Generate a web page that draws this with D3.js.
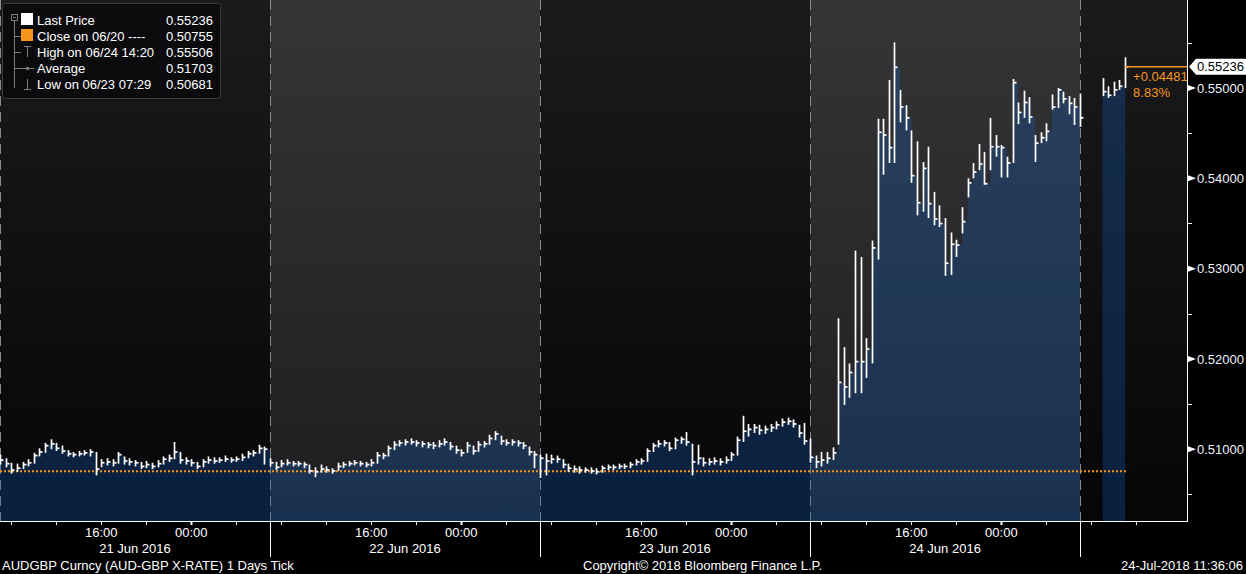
<!DOCTYPE html>
<html><head><meta charset="utf-8">
<script src="https://cdn.jsdelivr.net/npm/d3@7"></script>
<style>
body{margin:0;background:#000;overflow:hidden}
text{font-family:"Liberation Sans",Arial,sans-serif;font-size:13px}
</style>
</head><body><svg id="c" width="1246" height="574"></svg>
<script>
// ---------- data ----------
const seriesStart = "2016-06-21T07:00:00Z";
const barMinutes = 30;
const axisEnd = "2016-06-25T16:30:00Z";
const sessionStarts = ["2016-06-21T07:00:00Z","2016-06-22T07:00:00Z","2016-06-23T07:00:00Z","2016-06-24T07:00:00Z","2016-06-25T07:00:00Z"];
const dayLabels = ["21 Jun 2016","22 Jun 2016","23 Jun 2016","24 Jun 2016"];
const priceTicks = [0.51,0.52,0.53,0.54,0.55];
const minorPriceTicks = [0.505,0.515,0.525,0.535,0.545,0.555];

const closes = [
 .5088,.5084,.5077,.5079,.5083,.5085,.5093,.5097,.5104,.5106,
 .5101,.5098,.5095,.5094,.5095,.5096,.5097,.5078,.5085,.5086,
 .5085,.5094,.5087,.5086,.5085,.5081,.5083,.5081,.5084,.5089,
 .5090,.5097,.5088,.5087,.5085,.5081,.5086,.5088,.5087,.5088,
 .5089,.5088,.5089,.5091,.5095,.5096,.5101,.5100,
 .5085,.5080,.5084,.5085,.5084,.5084,.5083,.5076,.5075,.5078,
 .5077,.5076,.5081,.5083,.5084,.5085,.5084,.5083,.5085,.5093,
 .5093,.5101,.5105,.5107,.5108,.5108,.5107,.5106,.5105,.5104,
 .5106,.5108,.5103,.5099,.5096,.5104,.5098,.5105,.5106,.5112,
 .5117,.5109,.5107,.5108,.5107,.5104,.5097,.5094,
 .5090,.5087,.5089,.5089,.5083,.5079,.5078,.5077,.5077,.5076,
 .5075,.5079,.5080,.5080,.5081,.5081,.5083,.5086,.5087,.5098,
 .5104,.5106,.5107,.5101,.5110,.5111,.5108,.5086,.5090,.5085,
 .5086,.5087,.5086,.5088,.5094,.5110,.5120,.5122,.5124,.5121,
 .5122,.5124,.5127,.5130,.5131,.5128,.5118,.5109,
 .5091,.5086,.5088,.5090,.5096,.5174,.5169,.5185,.5197,.5197,
 .5211,.5323,.5451,.5448,.5434,.5523,.5479,.5467,.5403,.5373,
 .5411,.5372,.5355,.5350,.5306,.5327,.5326,.5352,.5395,.5407,
 .5416,.5394,.5435,.5435,.5434,.5417,.5506,.5473,.5484,.5468,
 .5439,.5445,.5452,.5479,.5498,.5488,.5483,.5479,.5467,
 null,null,null,
 .5496,.5492,.5498,.5502,.55236
];
const highs = [
 .5094,.5090,.5085,.5084,.5086,.5089,.5096,.5101,.5107,.5111,
 .5107,.5104,.5099,.5097,.5098,.5099,.5100,.5097,.5089,.5090,
 .5089,.5097,.5092,.5090,.5088,.5086,.5087,.5085,.5088,.5092,
 .5094,.5108,.5097,.5091,.5089,.5086,.5089,.5092,.5091,.5091,
 .5093,.5091,.5092,.5095,.5098,.5099,.5105,.5103,
 .5090,.5086,.5088,.5089,.5087,.5087,.5086,.5083,.5080,.5083,
 .5081,.5079,.5085,.5086,.5087,.5088,.5087,.5086,.5089,.5097,
 .5096,.5104,.5109,.5110,.5111,.5112,.5110,.5109,.5108,.5108,
 .5110,.5112,.5108,.5104,.5100,.5108,.5104,.5109,.5109,.5116,
 .5120,.5115,.5111,.5111,.5110,.5108,.5103,.5098,
 .5094,.5095,.5094,.5093,.5089,.5084,.5082,.5081,.5080,.5080,
 .5079,.5082,.5083,.5083,.5084,.5084,.5086,.5089,.5090,.5101,
 .5107,.5110,.5110,.5108,.5113,.5114,.5119,.5106,.5105,.5091,
 .5090,.5091,.5090,.5092,.5097,.5114,.5137,.5128,.5128,.5127,
 .5126,.5128,.5131,.5134,.5135,.5133,.5127,.5129,
 .5112,.5093,.5097,.5097,.5102,.5245,.5213,.5195,.5320,.5313,
 .5223,.5331,.5466,.5466,.5509,.55506,.5498,.5481,.5453,.5441,
 .5418,.5435,.5385,.5370,.5356,.5340,.5332,.5368,.5400,.5417,
 .5438,.5429,.5467,.5448,.5437,.5424,.5510,.5484,.5497,.5490,
 .5448,.5451,.5461,.5493,.5500,.5496,.5491,.5489,.5494,
 null,null,null,
 .5511,.5502,.5507,.5509,.5534
];
const lows = [
 .5083,.5080,.5073,.5075,.5078,.5081,.5084,.5092,.5096,.5100,
 .5098,.5095,.5092,.5091,.5092,.5093,.5092,.5071,.5080,.5082,
 .5081,.5084,.5083,.5082,.5081,.5078,.5079,.5078,.5080,.5083,
 .5086,.5089,.5084,.5083,.5081,.5078,.5080,.5084,.5084,.5085,
 .5086,.5085,.5086,.5087,.5090,.5092,.5095,.5083,
 .5081,.5077,.5080,.5082,.5081,.5081,.5079,.5073,.5069,.5074,
 .5074,.5073,.5076,.5079,.5081,.5082,.5081,.5080,.5081,.5084,
 .5089,.5092,.5099,.5103,.5104,.5105,.5103,.5102,.5101,.5100,
 .5102,.5104,.5099,.5095,.5092,.5096,.5094,.5097,.5102,.5105,
 .5110,.5105,.5104,.5104,.5103,.5100,.5093,.5079,
 .50681,.5071,.5084,.5085,.5079,.5075,.5074,.5073,.5074,.5073,
 .5072,.5074,.5077,.5077,.5078,.5078,.5079,.5082,.5083,.5086,
 .5097,.5102,.5103,.5098,.5100,.5106,.5104,.5071,.5083,.5081,
 .5082,.5083,.5082,.5084,.5087,.5093,.5108,.5114,.5118,.5116,
 .5117,.5119,.5122,.5125,.5127,.5124,.5113,.5105,
 .5085,.5079,.5081,.5084,.5088,.5105,.5149,.5157,.5162,.5162,
 .5179,.5195,.5310,.5404,.5417,.5417,.5462,.5453,.5395,.5359,
 .5363,.5356,.5348,.5346,.5292,.5293,.5313,.5339,.5379,.5400,
 .5409,.5393,.5409,.5424,.5401,.5401,.5417,.5460,.5467,.5461,
 .5418,.5439,.5441,.5476,.5478,.5483,.5471,.5459,.5457,
 null,null,null,
 .5491,.5489,.5491,.5498,.5500
];
const lastPrice = 0.55236;
const prevClose = 0.50755;
const legendRows = [
  {label:"Last Price", value:"0.55236"},
  {label:"Close on 06/20 ----", value:"0.50755"},
  {label:"High on 06/24 14:20", value:"0.55506"},
  {label:"Average", value:"0.51703"},
  {label:"Low on 06/23 07:29", value:"0.50681"}
];
const changeText = "+0.04481";
const changePctText = "8.83%";
const footerLeft = "AUDGBP Curncy (AUD-GBP X-RATE) 1 Days  Tick";
const footerMid = "Copyright\u00A9 2018 Bloomberg Finance L.P.";
const footerRight = "24-Jul-2018 11:36:06";

// ---------- layout ----------
const W = 1246, H = 574;
const plotR = 1187, plotB = 521;
const ORANGE = "#f7941d";
const svg = d3.select("#c");
svg.append("rect").attr("width",W).attr("height",H).attr("fill","#000");

const t0 = new Date(seriesStart);
const x = d3.scaleUtc().domain([t0, new Date(axisEnd)]).range([0, plotR]);
const y = d3.scaleLinear().domain([0.50205, 0.55975]).range([plotB, 0]);

const bars = closes.map((c,i)=>({t:new Date(+t0 + i*barMinutes*60000), c, h:highs[i], l:lows[i]}));
const valid = bars.filter(d=>d.c!=null);
const lastBar = valid[valid.length-1];

// gradients
const defs = svg.append("defs");
function grad(id, top, bot){
  const g = defs.append("linearGradient").attr("id",id).attr("x1",0).attr("y1",0).attr("x2",0).attr("y2",1);
  g.append("stop").attr("offset","0%").attr("stop-color",top);
  g.append("stop").attr("offset","100%").attr("stop-color",bot);
}
grad("gDark","#1b1b1e","#060608");
grad("gLight","#353537","#1e1e21");

const bands = sessionStarts.map((s,i)=>({s:new Date(s), e:new Date(sessionStarts[i+1]||axisEnd), i}));
svg.append("g").selectAll("rect").data(bands).join("rect")
  .attr("x",d=>x(d.s)).attr("y",0)
  .attr("width",d=>x(d.e)-x(d.s)).attr("height",plotB)
  .attr("fill",d=>d.i%2? "url(#gLight)":"url(#gDark)");

// dashed session separators
svg.append("g").selectAll("line").data(bands).join("line")
  .attr("x1",d=>Math.round(x(d.s))+0.5).attr("x2",d=>Math.round(x(d.s))+0.5)
  .attr("y1",0).attr("y2",plotB)
  .attr("stroke","#8a8a8a").attr("stroke-width",1).attr("stroke-dasharray","10,6");

// area
const area = d3.area().defined(d=>d.c!=null)
  .x(d=>x(d.t)).y0(plotB).y1(d=>y(d.c)).curve(d3.curveStepAfter);
svg.append("path").datum(bars).attr("d",area).attr("fill","rgb(15,95,190)").attr("fill-opacity",0.3);

// previous close dotted
svg.append("line").attr("x1",x(t0)).attr("x2",x(lastBar.t)+3)
  .attr("y1",y(prevClose)).attr("y2",y(prevClose))
  .attr("stroke",ORANGE).attr("stroke-width",2).attr("stroke-dasharray","2,2");

// hi-lo bars
const gb = svg.append("g").attr("stroke","#fff").attr("stroke-width",1.7);
gb.selectAll("line.hl").data(valid).join("line").attr("class","hl")
  .attr("x1",d=>Math.round(x(d.t))+0.5).attr("x2",d=>Math.round(x(d.t))+0.5)
  .attr("y1",d=>y(d.h)).attr("y2",d=>y(d.l));
gb.selectAll("line.cl").data(valid).join("line").attr("class","cl")
  .attr("x1",d=>Math.round(x(d.t))+0.5).attr("x2",d=>Math.round(x(d.t))+3.5)
  .attr("y1",d=>y(d.c)).attr("y2",d=>y(d.c));

// last price line + change
const yl = y(lastPrice);
svg.append("line").attr("x1",x(lastBar.t)).attr("x2",plotR).attr("y1",yl).attr("y2",yl)
  .attr("stroke",ORANGE).attr("stroke-width",1.5);
svg.append("text").attr("x",x(lastBar.t)+8).attr("y",yl+14).attr("fill",ORANGE).text(changeText);
svg.append("text").attr("x",x(lastBar.t)+8).attr("y",yl+30).attr("fill",ORANGE).text(changePctText);

// right axis
svg.append("line").attr("x1",plotR+0.5).attr("x2",plotR+0.5).attr("y1",0).attr("y2",plotB)
  .attr("stroke","#fff").attr("stroke-width",1);
const ga = svg.append("g");
ga.selectAll("path.maj").data(priceTicks).join("path").attr("class","maj")
  .attr("d",v=>`M${plotR+1},${y(v)-3}L${plotR+9},${y(v)}L${plotR+1},${y(v)+3}Z`).attr("fill","#fff");
ga.selectAll("line.min").data(minorPriceTicks).join("line").attr("class","min")
  .attr("x1",plotR+1).attr("x2",plotR+5).attr("y1",v=>Math.round(y(v))+0.5).attr("y2",v=>Math.round(y(v))+0.5)
  .attr("stroke","#fff");
ga.selectAll("text").data(priceTicks).join("text")
  .attr("x",plotR+10).attr("y",v=>y(v)).attr("dy","0.36em").attr("fill","#eef3fa")
  .text(v=>d3.format(".5f")(v));
// last price tag
svg.append("path").attr("d",`M${plotR+2},${yl}L${plotR+9},${yl-8}L${W},${yl-8}L${W},${yl+8}L${plotR+9},${yl+8}Z`).attr("fill","#fff");
svg.append("text").attr("x",plotR+10).attr("y",yl).attr("dy","0.36em").attr("fill","#000").text(d3.format(".5f")(lastPrice));

// bottom axis
svg.append("line").attr("x1",0).attr("x2",plotR+1).attr("y1",plotB+0.5).attr("y2",plotB+0.5).attr("stroke","#fff");
const tickEnd = new Date(+lastBar.t + 60*60000);
const hourTicks = x.ticks(d3.utcHour.every(4)).filter(t=>t<=tickEnd);
const gx = svg.append("g");
gx.selectAll("line").data(hourTicks).join("line")
  .attr("x1",d=>Math.round(x(d))+0.5).attr("x2",d=>Math.round(x(d))+0.5)
  .attr("y1",plotB).attr("y2",plotB+4).attr("stroke","#fff").attr("stroke-width",d=>d.getUTCHours()===0?2:1);
gx.selectAll("text").data(hourTicks.filter(d=>d.getUTCHours()===16||d.getUTCHours()===0)).join("text")
  .attr("x",d=>x(d)).attr("y",plotB+16).attr("text-anchor","middle").attr("fill","#fff")
  .text(d3.utcFormat("%H:%M"));
svg.append("g").selectAll("line").data(bands.slice(1)).join("line")
  .attr("x1",d=>Math.round(x(d.s))+0.5).attr("x2",d=>Math.round(x(d.s))+0.5)
  .attr("y1",plotB).attr("y2",plotB+36).attr("stroke","#fff");
svg.append("g").selectAll("text").data(dayLabels).join("text")
  .attr("x",(d,i)=>x(new Date(+bands[i].s + 12*3600000))).attr("y",plotB+32)
  .attr("text-anchor","middle").attr("fill","#fff").text(d=>d);

// footer
svg.append("text").attr("x",2).attr("y",570).attr("fill","#fff").text(footerLeft);
svg.append("text").attr("x",583).attr("y",570).attr("fill","#fff").text(footerMid);
svg.append("text").attr("x",1243).attr("y",570).attr("text-anchor","end").attr("fill","#fff").text(footerRight);

// legend
const lg = svg.append("g");
lg.append("rect").attr("x",2.5).attr("y",3.5).attr("width",218).attr("height",95).attr("rx",3)
  .attr("fill","#0b0b0d").attr("stroke","#3a3a3c");
const rowY = i => 20 + i*16;
const grey = "#7d7d7d";
lg.append("rect").attr("x",11.5).attr("y",14.5).attr("width",6).attr("height",6).attr("fill","none").attr("stroke",grey);
lg.append("line").attr("x1",13).attr("x2",16).attr("y1",17.5).attr("y2",17.5).attr("stroke",grey);
lg.append("line").attr("x1",14.5).attr("x2",14.5).attr("y1",21).attr("y2",rowY(4)+4).attr("stroke",grey);
[1,2,3].forEach(i=>lg.append("line").attr("x1",14.5).attr("x2",21).attr("y1",rowY(i)+0.5).attr("y2",rowY(i)+0.5).attr("stroke",grey));
lg.append("rect").attr("x",21).attr("y",rowY(0)-7).attr("width",12).attr("height",12).attr("fill","#fff");
lg.append("rect").attr("x",21).attr("y",rowY(1)-7).attr("width",12).attr("height",12).attr("fill",ORANGE);
// high icon
lg.append("path").attr("d",`M24,${rowY(2)-5.5}H31M27.5,${rowY(2)-5.5}V${rowY(2)+5}`).attr("stroke",grey).attr("fill","none");
// average icon
lg.append("path").attr("d",`M21,${rowY(3)+0.5}H34`).attr("stroke",grey);
lg.append("circle").attr("cx",27.5).attr("cy",rowY(3)+0.5).attr("r",1.8).attr("fill",grey);
// low icon
lg.append("path").attr("d",`M27.5,${rowY(4)-5}V${rowY(4)+5.5}M24,${rowY(4)+5.5}H31`).attr("stroke",grey).attr("fill","none");
lg.selectAll("text.l").data(legendRows).join("text").attr("class","l")
  .attr("x",37).attr("y",(d,i)=>rowY(i)+5).attr("fill","#fff").text(d=>d.label);
lg.selectAll("text.v").data(legendRows).join("text").attr("class","v")
  .attr("x",213).attr("y",(d,i)=>rowY(i)+5).attr("text-anchor","end").attr("fill","#fff").text(d=>d.value);
</script>
</body></html>
